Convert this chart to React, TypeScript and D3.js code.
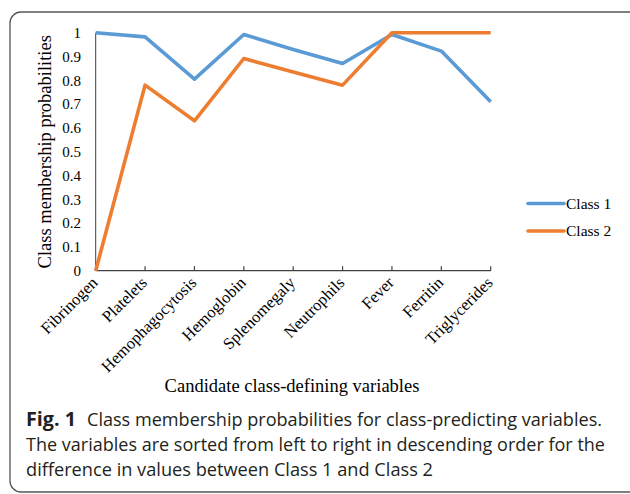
import React from "react";
import * as d3 from "d3";

const categories = [
  "Fibrinogen",
  "Platelets",
  "Hemophagocytosis",
  "Hemoglobin",
  "Splenomegaly",
  "Neutrophils",
  "Fever",
  "Ferritin",
  "Triglycerides",
];
const class1 = [1.0, 0.983, 0.805, 0.993, 0.93, 0.871, 0.993, 0.923, 0.71];
const class2 = [0.0, 0.78, 0.63, 0.892, 0.835, 0.78, 1.0, 1.0, 1.0];
const yTicks = [0, 0.1, 0.2, 0.3, 0.4, 0.5, 0.6, 0.7, 0.8, 0.9, 1];
const seriesNames = ["Class 1", "Class 2"];
const seriesColors = ["#5B9BD5", "#ED7D31"];
const captionBold = "Fig. 1";
const captionLines = [
  "Class membership probabilities for class-predicting variables.",
  "The variables are sorted from left to right in descending order for the",
  "difference in values between Class 1 and Class 2",
];

export default function App() {
  const W = 630;
  const H = 494;
  const x0 = 95.7;
  const x1 = 490.7;
  const yTop = 32.8;
  const yBot = 270.7;

  const x = d3
    .scalePoint<string>()
    .domain(categories)
    .range([x0, x1])
    .padding(0);
  const y = d3.scaleLinear().domain([0, 1]).range([yBot, yTop]);

  const line = d3
    .line<number>()
    .x((_, i) => x(categories[i]) as number)
    .y((d) => y(d));

  const series = [class1, class2];
  const serif = "'Liberation Serif', 'Times New Roman', serif";
  const sans = "'Open Sans', 'Noto Sans', sans-serif";

  return (
    <svg
      width={W}
      height={H}
      style={{ position: "absolute", left: 0, top: 0, display: "block" }}
    >
      <rect x={0} y={0} width={W} height={H} fill="#fff" />
      {/* frame */}
      <rect
        x={10}
        y={12}
        width={630}
        height={480}
        rx={11}
        ry={11}
        fill="none"
        stroke="#555"
        strokeWidth={1.3}
      />
      {/* y axis line */}
      <line x1={x0} x2={x0} y1={yTop} y2={yBot} stroke="#404040" strokeWidth={1} />
      {/* x axis line */}
      <line x1={x0} x2={x1} y1={yBot} y2={yBot} stroke="#404040" strokeWidth={1.3} />
      {categories.map((c) => (
        <line
          key={"t" + c}
          x1={x(c)}
          x2={x(c)}
          y1={yBot}
          y2={yBot - 4.5}
          stroke="#404040"
          strokeWidth={1.2}
        />
      ))}
      {/* y tick labels */}
      {yTicks.map((t) => (
        <text
          key={"y" + t}
          x={81}
          y={y(t)}
          dy="0.35em"
          textAnchor="end"
          fontFamily={serif}
          fontSize={15}
          fill="#000"
        >
          {t === 0 || t === 1 ? String(t) : t.toFixed(1)}
        </text>
      ))}
      {/* category labels */}
      {categories.map((c) => {
        const cx = (x(c) as number) + 3;
        const cy = yBot + 13;
        return (
          <text
            key={"c" + c}
            x={cx}
            y={cy}
            textAnchor="end"
            transform={`rotate(-45 ${cx} ${cy})`}
            fontFamily={serif}
            fontSize={16.5}
            fill="#000"
          >
            {c}
          </text>
        );
      })}
      {/* lines */}
      {series.map((s, i) => (
        <path
          key={"s" + i}
          d={line(s) || ""}
          fill="none"
          stroke={seriesColors[i]}
          strokeWidth={3.6}
          strokeLinejoin="round"
        />
      ))}
      {/* axis titles */}
      <text
        x={0}
        y={0}
        transform={`translate(51 ${(yTop + yBot) / 2}) rotate(-90)`}
        textAnchor="middle"
        fontFamily={serif}
        fontSize={18.5}
        fill="#000"
      >
        Class membership probabilities
      </text>
      <text
        x={292}
        y={392}
        textAnchor="middle"
        fontFamily={serif}
        fontSize={18.5}
        fill="#000"
      >
        Candidate class-defining variables
      </text>
      {/* legend */}
      {seriesNames.map((n, i) => {
        const ly = 203.5 + i * 27.5;
        return (
          <g key={"l" + n}>
            <line
              x1={528}
              x2={564}
              y1={ly}
              y2={ly}
              stroke={seriesColors[i]}
              strokeWidth={3.6}
              strokeLinecap="round"
            />
            <text
              x={566}
              y={ly}
              dy="0.35em"
              fontFamily={serif}
              fontSize={15.5}
              fill="#000"
            >
              {n}
            </text>
          </g>
        );
      })}
      {/* caption */}
      <text
        x={26}
        y={426}
        fontFamily={sans}
        fontSize={19}
        fill="#231f20"
        fontWeight="bold"
        textLength={50}
        lengthAdjust="spacingAndGlyphs"
      >
        {captionBold}
      </text>
      <text
        x={87}
        y={426}
        fontFamily={sans}
        fontSize={19}
        fill="#231f20"
        textLength={515}
        lengthAdjust="spacingAndGlyphs"
      >
        {captionLines[0]}
      </text>
      <text
        x={26}
        y={451}
        fontFamily={sans}
        fontSize={19}
        fill="#231f20"
        textLength={579}
        lengthAdjust="spacingAndGlyphs"
      >
        {captionLines[1]}
      </text>
      <text
        x={26}
        y={476}
        fontFamily={sans}
        fontSize={19}
        fill="#231f20"
        textLength={407}
        lengthAdjust="spacingAndGlyphs"
      >
        {captionLines[2]}
      </text>
    </svg>
  );
}
